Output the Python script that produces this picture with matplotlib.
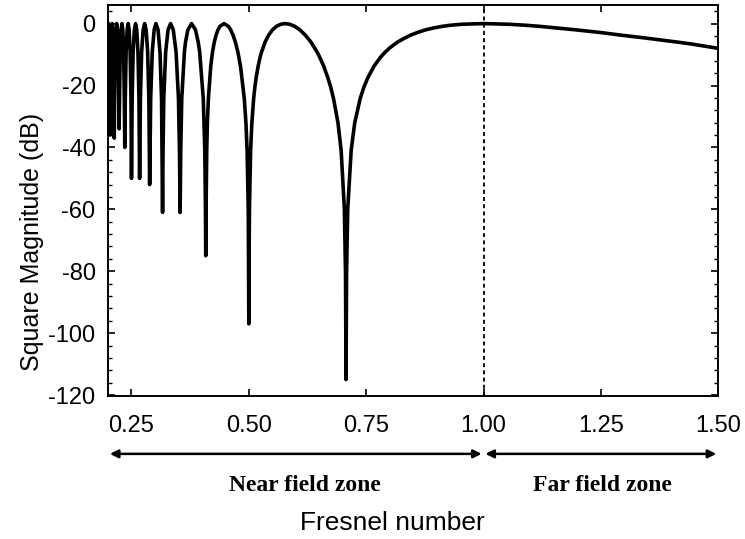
import matplotlib
matplotlib.use('Agg')
import matplotlib.pyplot as plt
from matplotlib.ticker import MultipleLocator

# Fresnel number values (left edge -> right edge)
fresnel = [
    # partial lobe at the left edge
    0.2000, 0.2012, 0.2025, 0.2034, 0.2041,
    # small lobes, each ending at a null
    0.2048, 0.2059, 0.2073, 0.2087, 0.2100, 0.2114, 0.2125, 0.2132,
    0.2140, 0.2153, 0.2168, 0.2184, 0.2200, 0.2215, 0.2228, 0.2236,
    0.2246, 0.2260, 0.2278, 0.2297, 0.2315, 0.2333, 0.2347, 0.2357,
    0.2368, 0.2386, 0.2407, 0.2429, 0.2450, 0.2471, 0.2489, 0.2500,
    0.2514, 0.2535, 0.2561, 0.2587, 0.2612, 0.2638, 0.2659, 0.2673,
    0.2690, 0.2716, 0.2748, 0.2780, 0.2812, 0.2844, 0.2870, 0.2887,
    0.2909, 0.2942, 0.2983, 0.3020, 0.3066, 0.3107, 0.3140, 0.3162,
    0.3172, 0.3188, 0.3228, 0.3279, 0.3333, 0.3390, 0.3450, 0.3501, 0.3522, 0.3536,
    0.3549, 0.3571, 0.3627, 0.3651, 0.3701, 0.3780, 0.3863, 0.3922, 0.3953,
    0.4029, 0.4062, 0.4076, 0.4082,
    # lobe 0.41 - 0.50
    0.4089, 0.4103, 0.4117, 0.4138, 0.4189, 0.4226, 0.4264, 0.4303, 0.4344,
    0.4385, 0.4472, 0.4564, 0.4613, 0.4663, 0.4714, 0.4767, 0.4822, 0.4903,
    0.4939, 0.4963, 0.4988, 0.4996, 0.5000,
    # lobe 0.50 - 0.71
    0.5004, 0.5013, 0.5038, 0.5064, 0.5103, 0.5130, 0.5157, 0.5199, 0.5241,
    0.5271, 0.5345, 0.5423, 0.5505, 0.5590, 0.5680, 0.5774, 0.5872, 0.5976,
    0.6086, 0.6202, 0.6325, 0.6455, 0.6509, 0.6594, 0.6682, 0.6742, 0.6804,
    0.6901, 0.6967, 0.7036, 0.7060, 0.7071,
    # last lobe going into the far field
    0.7082, 0.7107, 0.7180, 0.7255, 0.7372, 0.7454, 0.7538, 0.7670, 0.7809,
    0.7906, 0.8006, 0.8165, 0.8305, 0.8452, 0.8607, 0.8771, 0.8944, 0.9129,
    0.9285, 0.9535, 1.0000, 1.0541, 1.0911, 1.1180, 1.1952, 1.2500, 1.2910,
    1.3363, 1.4142, 1.4434, 1.5000,
]

# square magnitude in dB at those points
mag_db = [
    0.0, -2.0, -9.2, -24.2, -36,
    -24.2, -9.2, -2.0, 0.0, -2.0, -9.2, -24.2, -37,
    -24.2, -9.2, -2.0, 0.0, -2.0, -9.2, -24.2, -34,
    -24.2, -9.2, -2.0, 0.0, -2.0, -9.2, -24.2, -40,
    -24.2, -9.2, -2.0, 0.0, -2.0, -9.2, -24.2, -50,
    -24.2, -9.2, -2.0, 0.0, -2.0, -9.2, -24.2, -50,
    -24.2, -9.2, -2.0, 0.0, -2.0, -9.2, -24.2, -52,
    -24.2, -9.2, -2.0, 0.0, -2.0, -9.2, -24.2, -61,
    -41, -24.2, -9.2, -2.0, 0.0, -2.0, -9.2, -24.2, -41, -61,
    -41, -24.2, -9.2, -6.0, -2.0, 0.0, -2.0, -6.0, -9.2,
    -24.2, -41, -60, -75,
    -60, -41, -32.2, -24.2, -13.7, -9.2, -6.0, -3.7, -2.0,
    -0.87, 0.0, -0.87, -2.0, -3.7, -6.0, -9.2, -13.7, -24.2,
    -32.2, -41, -60, -81, -97,
    -81, -60, -41, -32.2, -24.2, -20.4, -17.4, -13.7, -10.8,
    -9.2, -6.0, -3.7, -2.0, -0.87, -0.22, 0.0, -0.22, -0.87,
    -2.0, -3.7, -6.0, -9.2, -10.8, -13.7, -17.4, -20.4, -24.2,
    -32.2, -41, -60, -81, -115,
    -81, -60, -41, -32.2, -24.2, -20.4, -17.4, -13.7, -10.8,
    -9.2, -7.8, -6.0, -4.8, -3.7, -2.8, -2.0, -1.4, -0.87,
    -0.55, -0.22, 0.0, -0.22, -0.55, -0.87, -2.0, -2.9, -3.7,
    -4.5, -6.0, -6.6, -8.0,
]

x_ticks = [0.25, 0.50, 0.75, 1.00, 1.25, 1.50]
x_tick_labels = ['0.25', '0.50', '0.75', '1.00', '1.25', '1.50']
y_ticks = [0, -20, -40, -60, -80, -100, -120]
zone_edges = [0.2, 1.0, 1.5]
zone_names = ['Near field zone', 'Far field zone']
zone_text_x = [0.6185, 1.254]

plt.rcParams['font.family'] = ['Liberation Sans', 'DejaVu Sans']
plt.rcParams['axes.unicode_minus'] = False

fig = plt.figure(figsize=(7.45, 5.39), dpi=100)
ax = fig.add_axes([0.145, 0.2653, 0.819, 0.7254])

# the curve
ax.plot(fresnel, mag_db, color='black', lw=2.6, solid_joinstyle='round')

# boundary near/far field
ax.axvline(1.0, color='black', lw=1.3, ls=(0, (2.2, 1.8)))

ax.set_xlim(0.2, 1.5)
ax.set_ylim(-120.3, 6)

ax.set_xticks(x_ticks)
ax.set_xticklabels(x_tick_labels)
ax.set_yticks(y_ticks)
ax.yaxis.set_minor_locator(MultipleLocator(4))
ax.tick_params(which='both', direction='in', top=True, right=True, colors='black')
ax.tick_params(which='major', length=5, width=1.2, labelsize=17)
ax.tick_params(axis='x', which='major', pad=14)
ax.tick_params(axis='y', which='major', pad=9)
ax.tick_params(which='minor', length=3, width=1.0)
for s in ax.spines.values():
    s.set_linewidth(1.4)

# labels
ax.set_ylabel('Square Magnitude (dB)', fontsize=18, va='center', ha='center')
ax.yaxis.set_label_coords(-0.125, 0.394)
ax.set_xlabel('Fresnel number', fontsize=19, va='center', ha='center')
ax.xaxis.set_label_coords(0.466, -0.325)

# zone arrows under the axis
for i in range(len(zone_names)):
    x0 = zone_edges[i] + 0.004
    x1 = zone_edges[i + 1] - 0.004
    ax.annotate('', xy=(x1, -0.148), xytext=(x0, -0.148),
                xycoords=('data', 'axes fraction'),
                textcoords=('data', 'axes fraction'),
                arrowprops=dict(arrowstyle='<|-|>', color='black', lw=1.8,
                                mutation_scale=12, shrinkA=0, shrinkB=0),
                annotation_clip=False)
    ax.text(zone_text_x[i], -0.228, zone_names[i], transform=ax.get_xaxis_transform(),
            ha='center', va='center', fontsize=17, fontweight='bold',
            family='Liberation Serif')

fig.savefig('out.png', dpi=100)
